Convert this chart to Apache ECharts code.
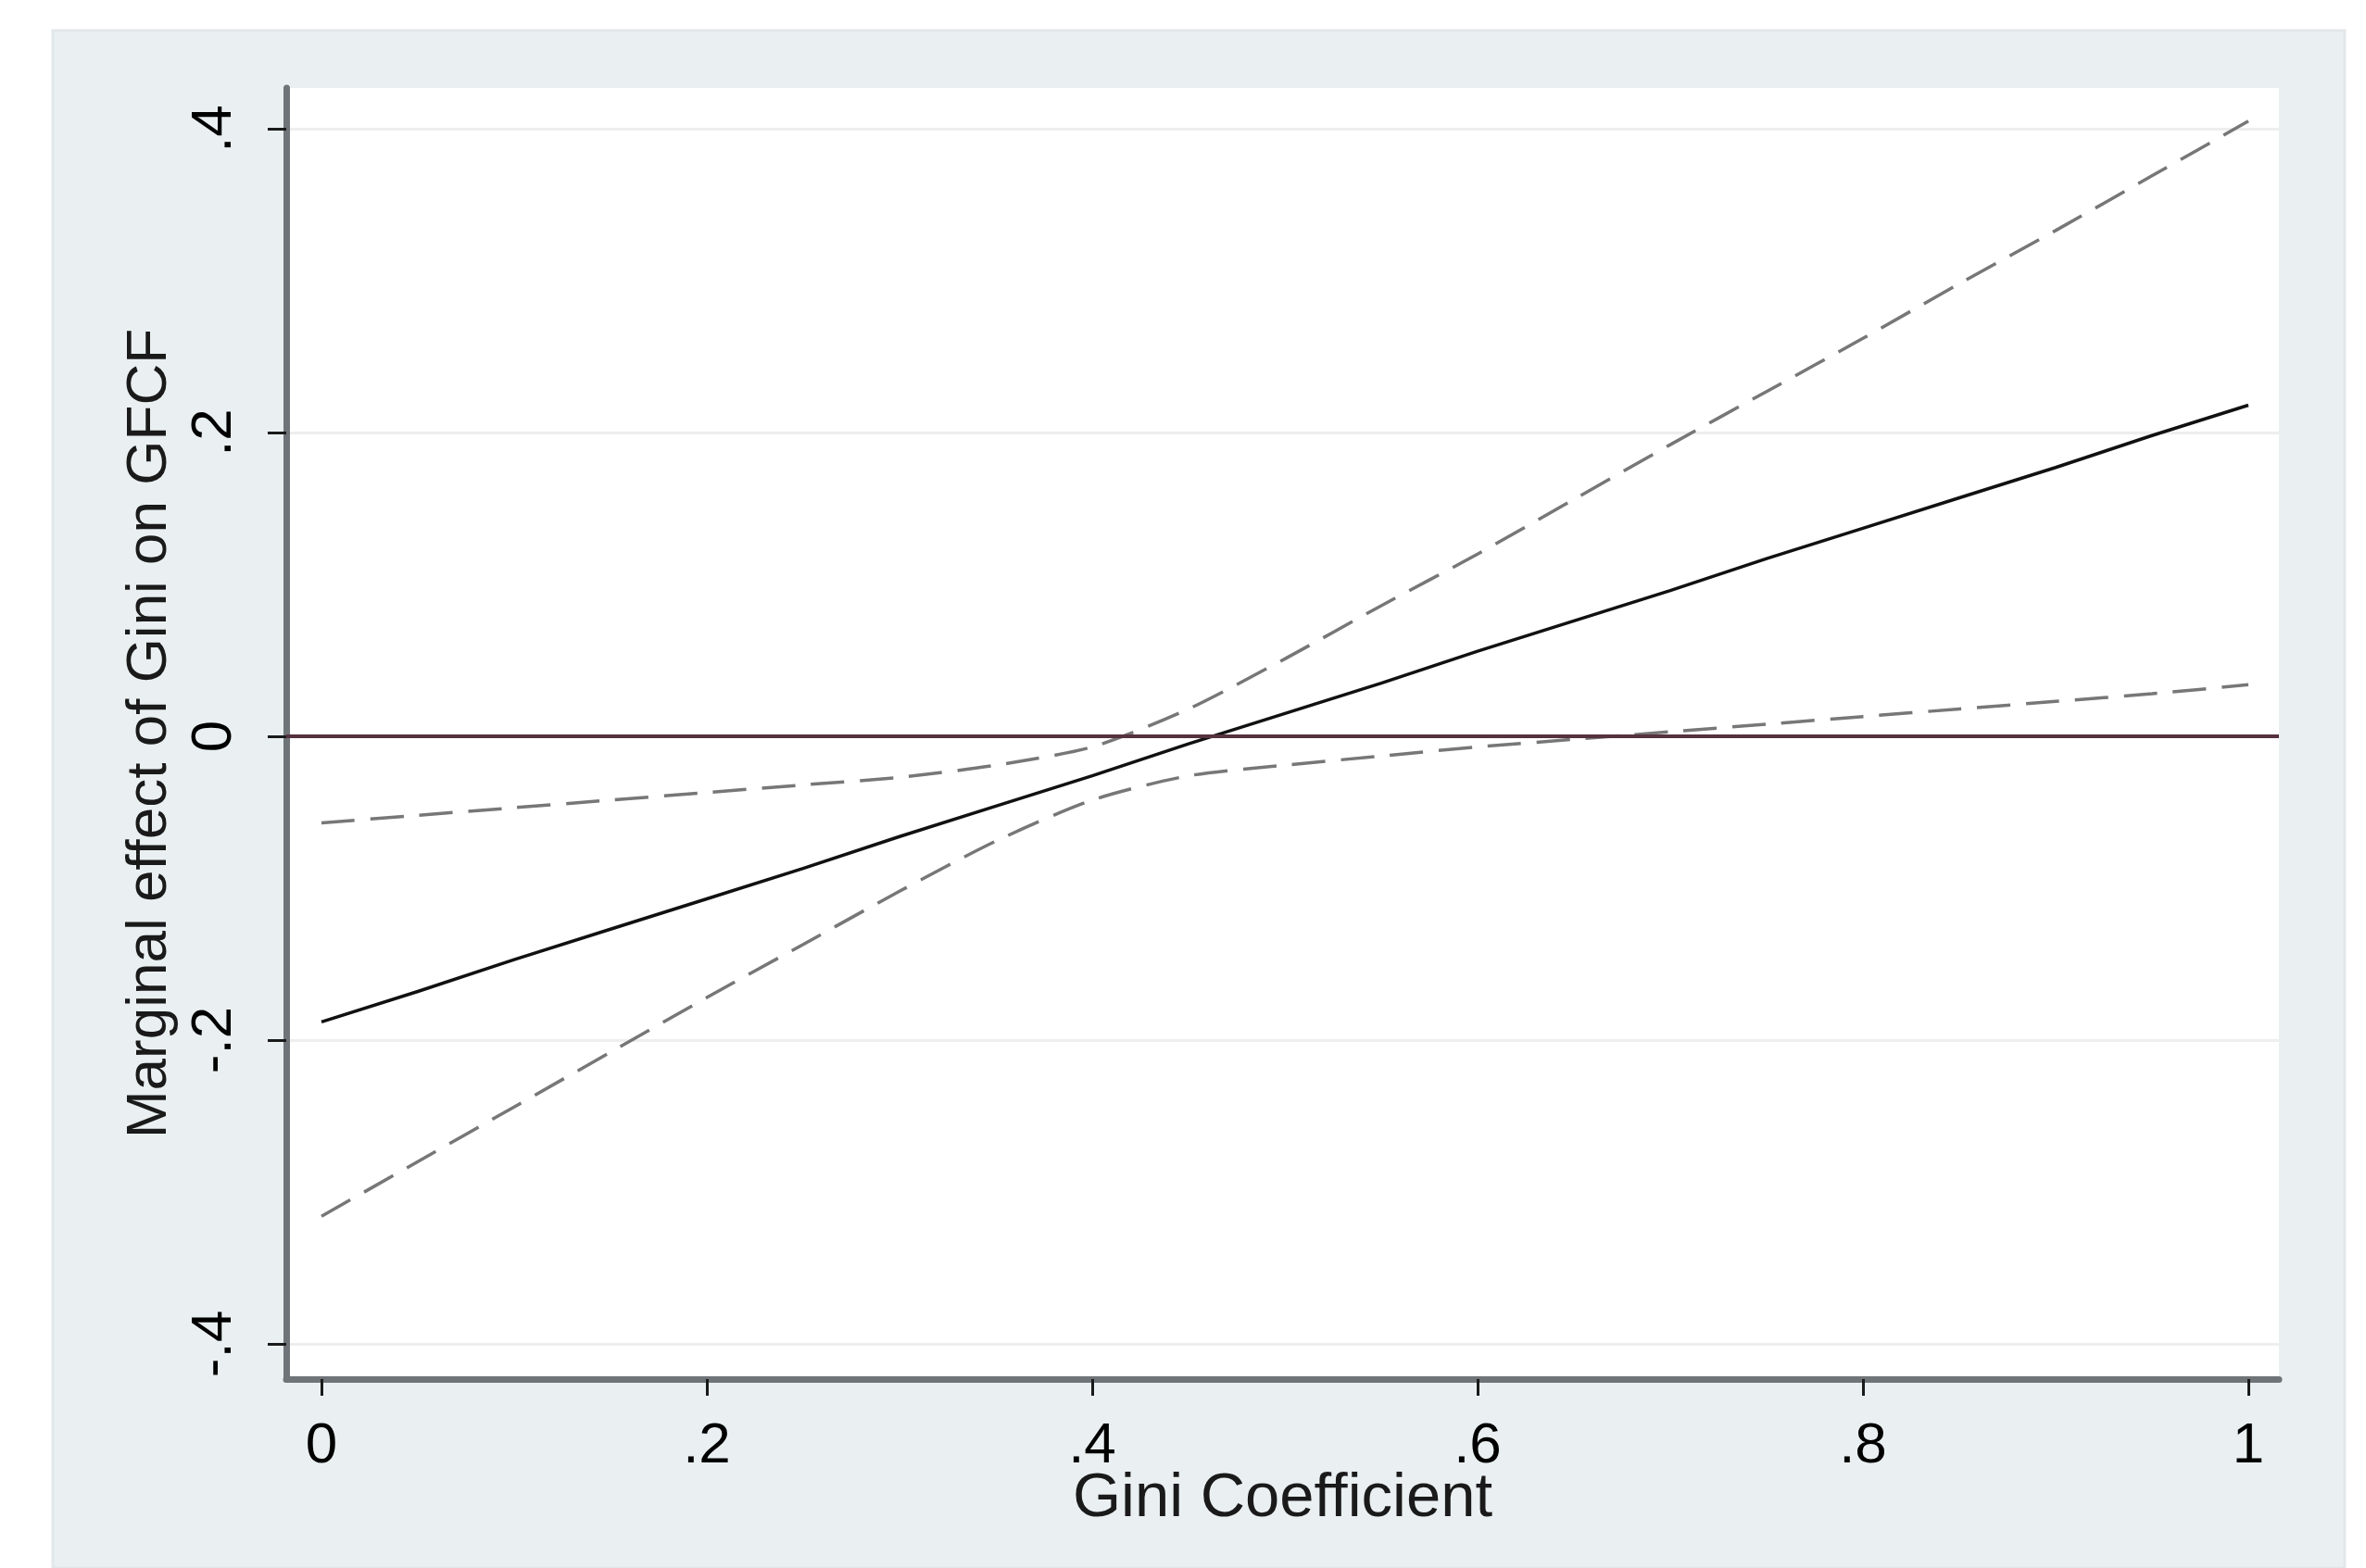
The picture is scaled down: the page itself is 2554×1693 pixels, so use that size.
<!DOCTYPE html>
<html>
<head>
<meta charset="utf-8">
<script src="https://cdn.jsdelivr.net/npm/echarts@6/dist/echarts.min.js"></script>
<style>
html,body{margin:0;padding:0;background:#ffffff;}
#chart{width:2554px;height:1693px;}
</style>
</head>
<body>
<div id="chart"></div>
<script>
// ---- data ----
const giniX = [0, 0.05, 0.1, 0.15, 0.2, 0.25, 0.3, 0.35, 0.4, 0.45, 0.5, 0.55, 0.6, 0.65, 0.7, 0.75, 0.8, 0.85, 0.9, 0.95, 1];
const marginalEffect = [-0.188, -0.168, -0.147, -0.127, -0.107, -0.087, -0.066, -0.046, -0.026, -0.005, 0.015, 0.035, 0.056, 0.076, 0.096, 0.117, 0.137, 0.157, 0.177, 0.198, 0.218];
const upperCI = [-0.057, -0.052, -0.047, -0.042, -0.037, -0.032, -0.027, -0.019, -0.007, 0.018, 0.051, 0.086, 0.120, 0.156, 0.192, 0.227, 0.262, 0.298, 0.333, 0.369, 0.405];
const lowerCI = [-0.316, -0.280, -0.244, -0.208, -0.172, -0.137, -0.102, -0.069, -0.042, -0.026, -0.019, -0.013, -0.007, -0.002, 0.003, 0.008, 0.013, 0.018, 0.023, 0.028, 0.034];
const zeroLine = [0];

const xTickValues = [0, 0.2, 0.4, 0.6, 0.8, 1];
const xTickLabels = ['0', '.2', '.4', '.6', '.8', '1'];
const yTickValues = [-0.4, -0.2, 0, 0.2, 0.4];
const yTickLabels = ['-.4', '-.2', '0', '.2', '.4'];

const xTitle = 'Gini Coefficient';
const yTitle = 'Marginal effect of Gini on GFCF';

function labelFor(values, labels) {
  return function (v) {
    const i = values.findIndex(t => Math.abs(t - v) < 1e-9);
    return i >= 0 ? labels[i] : '';
  };
}
function pairs(xs, ys) { return xs.map((x, i) => [x, ys[i]]); }

const FONT = "'Liberation Sans', Arial, sans-serif";
const chart = echarts.init(document.getElementById('chart'), null, {renderer: 'canvas'});

chart.setOption({
  backgroundColor: '#ffffff',
  animation: false,
  graphic: [{
    type: 'rect',
    z: -10,
    shape: {x: 57, y: 33, width: 2474, height: 1660},
    style: {fill: '#eaf0f2', stroke: '#e2e8ea', lineWidth: 3}
  }],
  grid: {
    left: 309, top: 95, width: 2151, height: 1394,
    show: true, backgroundColor: '#ffffff', borderWidth: 0
  },
  xAxis: {
    type: 'value',
    min: -0.01827, max: 1.01587,
    name: xTitle,
    nameLocation: 'middle',
    nameGap: 96,
    nameMoveOverlap: false,
    nameTextStyle: {fontFamily: FONT, fontSize: 67, color: '#1a1a1a'},
    axisLine: {show: true, onZero: false, lineStyle: {color: '#6f7478', width: 7}},
    axisTick: {show: true, customValues: xTickValues, length: 18, lineStyle: {color: '#1a1a1a', width: 3}},
    axisLabel: {customValues: xTickValues, formatter: labelFor(xTickValues, xTickLabels), fontFamily: FONT, fontSize: 62, color: '#000', margin: 42},
    splitLine: {show: false}
  },
  yAxis: {
    type: 'value',
    min: -0.42317, max: 0.42683,
    name: yTitle,
    nameLocation: 'middle',
    nameGap: 114,
    nameTextStyle: {fontFamily: FONT, fontSize: 62, color: '#1a1a1a'},
    axisLine: {show: true, onZero: false, lineStyle: {color: '#6f7478', width: 7}},
    axisTick: {show: true, customValues: yTickValues, length: 20, lineStyle: {color: '#1a1a1a', width: 3}},
    axisLabel: {customValues: yTickValues, formatter: labelFor(yTickValues, yTickLabels), rotate: 90, fontFamily: FONT, fontSize: 62, color: '#000', margin: 46},
    splitLine: {show: true, lineStyle: {color: '#eeeeee', width: 3}}
  },
  series: [
    {
      name: 'Upper CI', type: 'line', data: pairs(giniX, upperCI),
      showSymbol: false, symbol: 'none', z: 3, smooth: 0.25,
      lineStyle: {color: '#777777', width: 3.5, type: [36, 17]}
    },
    {
      name: 'Lower CI', type: 'line', data: pairs(giniX, lowerCI),
      showSymbol: false, symbol: 'none', z: 3, smooth: 0.25,
      lineStyle: {color: '#777777', width: 3.5, type: [36, 17]}
    },
    {
      name: 'Marginal effect', type: 'line', data: pairs(giniX, marginalEffect),
      showSymbol: false, symbol: 'none', z: 4,
      lineStyle: {color: '#111111', width: 3.5, type: 'solid'},
      markLine: {
        silent: true, symbol: 'none', animation: false,
        label: {show: false},
        lineStyle: {color: '#56313f', width: 4, type: 'solid'},
        data: zeroLine.map(v => ({yAxis: v}))
      }
    }
  ]
});
</script>
</body>
</html>
